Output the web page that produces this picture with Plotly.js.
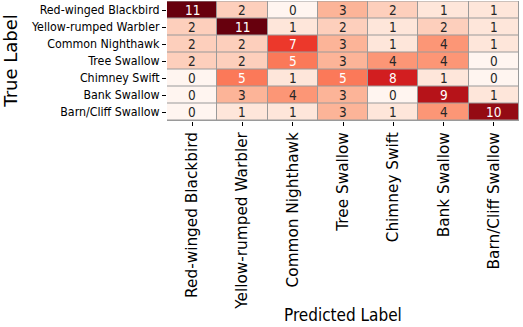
<!DOCTYPE html>
<html>
<head>
<meta charset="utf-8">
<script src="https://cdn.plot.ly/plotly-3.0.1.min.js"></script>
<style>html,body{margin:0;padding:0;background:#fff;}#chart{width:523px;height:327px;}</style>
</head>
<body>
<div id="chart"></div>
<script>
const trueLabels = ["Red-winged Blackbird","Yellow-rumped Warbler","Common Nighthawk","Tree Swallow","Chimney Swift","Bank Swallow","Barn/Cliff Swallow"];
const predLabels = ["Red-winged Blackbird","Yellow-rumped Warbler","Common Nighthawk","Tree Swallow","Chimney Swift","Bank Swallow","Barn/Cliff Swallow"];
const rowRedWinged   = [11, 2, 0, 3, 2, 1, 1];
const rowYellowRump  = [2, 11, 1, 2, 1, 2, 1];
const rowNighthawk   = [2, 2, 7, 3, 1, 4, 1];
const rowTreeSwallow = [2, 2, 5, 3, 4, 4, 0];
const rowChimney     = [0, 5, 1, 5, 8, 1, 0];
const rowBank        = [0, 3, 4, 3, 0, 9, 1];
const rowBarnCliff   = [0, 1, 1, 3, 1, 4, 10];
const counts = [rowRedWinged,rowYellowRump,rowNighthawk,rowTreeSwallow,rowChimney,rowBank,rowBarnCliff];
const xTitle = 'Predicted Label';
const yTitle = 'True Label';

const reds = ['#fff5f0','#fee0d2','#fcbba1','#fc9272','#fb6a4a','#ef3b2c','#cb181d','#a50f15','#67000d'];
const colorscale = reds.map((c,i)=>[i/(reds.length-1), c]);
const zmax = 11;

const annotations = [];
counts.forEach((row, r) => row.forEach((v, c) => {
  annotations.push({
    x: predLabels[c], y: trueLabels[r], xref:'x', yref:'y',
    text: String(v), showarrow:false, borderpad:0,
    font:{family:'DejaVu Sans Condensed, DejaVu Sans', size:13.5, color: v/zmax >= 0.45 ? '#ffffff' : '#262626'}
  });
}));
annotations.push({
  xref:'paper', yref:'paper', x:0.5, y:-1.62, yanchor:'middle', xanchor:'center',
  text:xTitle, showarrow:false,
  font:{family:'DejaVu Sans Condensed, DejaVu Sans', size:17, color:'#000'}
});
annotations.push({
  xref:'paper', yref:'paper', x:-0.447, y:0.5, xanchor:'center', yanchor:'middle',
  text:yTitle, showarrow:false, textangle:-90,
  font:{family:'DejaVu Sans', size:18, color:'#000'}
});

const trace = {
  type:'heatmap', z: counts, x: predLabels, y: trueLabels,
  colorscale: colorscale, zmin:0, zmax:zmax, showscale:false,
  xgap:1, ygap:1, hoverinfo:'skip'
};

const layout = {
  width:523, height:327,
  margin:{l:167, r:4, t:1, b:206, pad:0},
  paper_bgcolor:'#ffffff', plot_bgcolor:'#9a9a9a',
  font:{family:'DejaVu Sans', color:'#000'},
  xaxis:{
    type:'category', tickangle:-90, ticks:'outside', ticklen:4, tickcolor:'#000',
    tickfont:{family:'DejaVu Sans', size:15.3, color:'#000'},
    showgrid:false, zeroline:false, showline:false, automargin:false
  },
  yaxis:{
    type:'category', autorange:'reversed', ticks:'outside', ticklen:4, tickcolor:'#000',
    tickfont:{family:'DejaVu Sans Condensed, DejaVu Sans', size:12.3, color:'#000'},
    showgrid:false, zeroline:false, showline:false, automargin:false
  },
  annotations: annotations
};

Plotly.newPlot('chart', [trace], layout, {displayModeBar:false, staticPlot:true});
</script>
</body>
</html>
